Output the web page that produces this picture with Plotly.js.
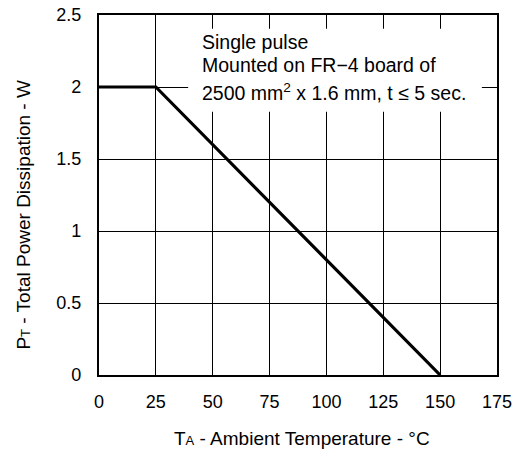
<!DOCTYPE html>
<html>
<head>
<meta charset="utf-8">
<script src="https://cdn.plot.ly/plotly-3.0.1.min.js"></script>
<style>html,body{margin:0;padding:0;background:#fff;}#chart{width:518px;height:453px;}</style>
</head>
<body>
<div id="chart"></div>
<script>
const temperature = [0, 25, 150];
const powerDissipation = [2, 2, 0];
const xTicks = [0, 25, 50, 75, 100, 125, 150, 175];
const xTickLabels = ['0', '25', '50', '75', '100', '125', '150', '175'];
const yTicks = [0, 0.5, 1, 1.5, 2, 2.5];
const yTickLabels = ['0', '0.5', '1', '1.5', '2', '2.5'];
const noteLines = [
  'Single pulse',
  'Mounted on FR\u22124 board of',
  '2500 mm<sup>2</sup> x 1.6 mm, t \u2264 5 sec.'
];
const xTitle = 'T<span style="font-size:13px">A</span> - Ambient Temperature - \u00b0C';
const yTitle = 'P<span style="font-size:13px">T</span> - Total Power Dissipation - W';

const family = 'Liberation Sans, Arial, sans-serif';
const tickFont = {family: family, size: 18, color: '#000'};
const titleFont = {family: family, size: 19, color: '#000'};
const noteFont = {family: family, size: 19.5, color: '#000'};

const noteY = [0.926, 0.862, 0.786];
const annotations = noteLines.map((t, i) => ({
  text: t, xref: 'paper', yref: 'paper', x: 0.254, y: noteY[i],
  xanchor: 'left', yanchor: 'middle', showarrow: false, font: noteFont
}));
annotations.push({
  text: xTitle, xref: 'paper', yref: 'paper', x: 0.51, y: -0.175,
  xanchor: 'center', yanchor: 'middle', showarrow: false, font: titleFont
});
annotations.push({
  text: yTitle, xref: 'paper', yref: 'paper', x: -0.189, y: 0.445,
  xanchor: 'center', yanchor: 'middle', showarrow: false, textangle: -90, font: titleFont
});

const trace = {
  x: temperature, y: powerDissipation, type: 'scatter', mode: 'lines',
  line: {color: '#000', width: 3.2}, hoverinfo: 'skip'
};

const layout = {
  width: 518, height: 453,
  margin: {l: 99, r: 21, t: 15, b: 78},
  paper_bgcolor: '#fff', plot_bgcolor: '#fff',
  showlegend: false,
  font: tickFont,
  xaxis: {
    range: [0, 175], tickmode: 'array', tickvals: xTicks, ticktext: xTickLabels,
    showgrid: true, gridcolor: '#000', gridwidth: 1,
    showline: true, linecolor: '#000', linewidth: 2.2, mirror: true,
    zeroline: false, ticks: '', ticklabelstandoff: 9, tickfont: tickFont, fixedrange: true
  },
  yaxis: {
    range: [0, 2.5], tickmode: 'array', tickvals: yTicks, ticktext: yTickLabels,
    showgrid: true, gridcolor: '#000', gridwidth: 1,
    showline: true, linecolor: '#000', linewidth: 2.2, mirror: true,
    zeroline: false, ticks: '', ticklabelstandoff: 12, tickfont: tickFont, fixedrange: true
  },
  shapes: [{
    type: 'rect', xref: 'paper', yref: 'paper',
    x0: 0.224, x1: 0.962, y0: 0.731, y1: 0.962,
    fillcolor: '#fff', line: {width: 0}, layer: 'above'
  }],
  annotations: annotations
};

Plotly.newPlot('chart', [trace], layout, {staticPlot: true, displayModeBar: false});
</script>
</body>
</html>
